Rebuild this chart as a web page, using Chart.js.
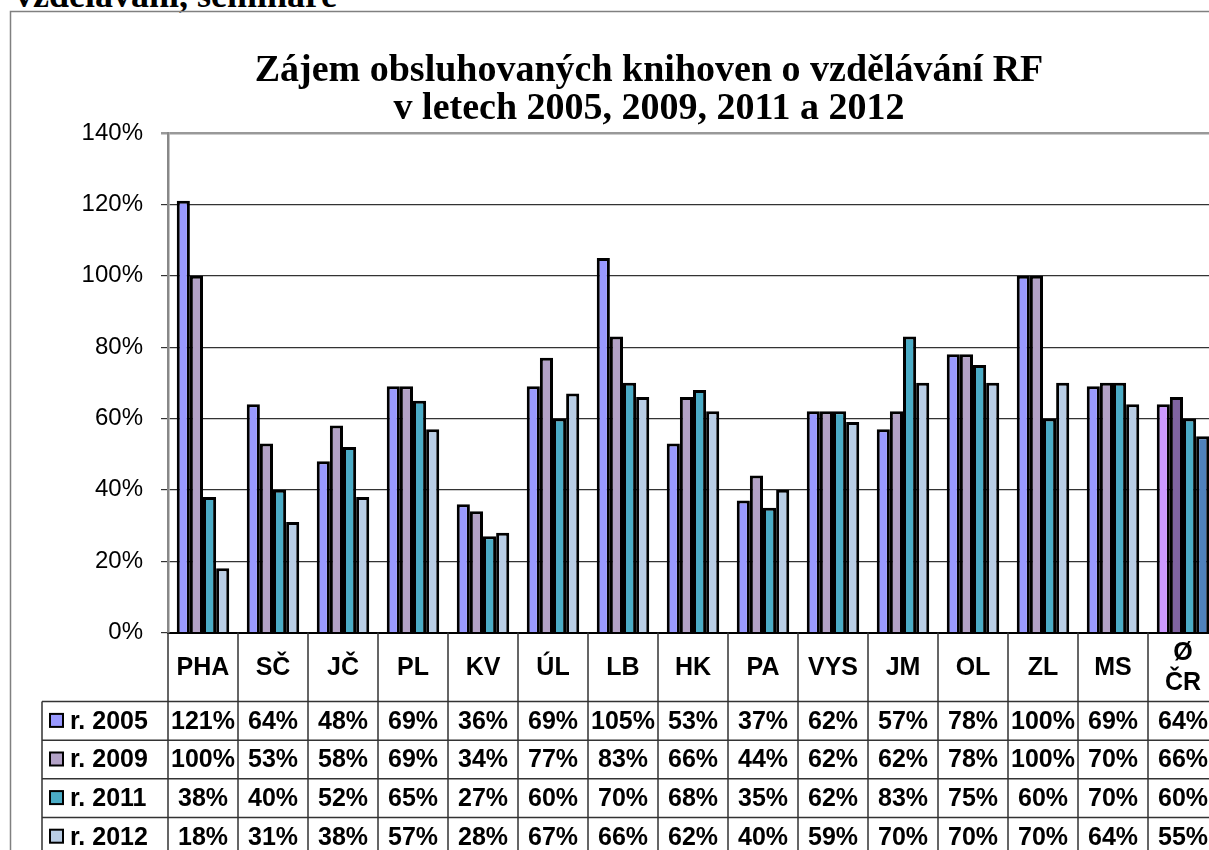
<!DOCTYPE html>
<html>
<head>
<meta charset="utf-8">
<script src="https://cdn.jsdelivr.net/npm/chart.js@4.4.1/dist/chart.umd.min.js"></script>
<style>
  html, body { margin: 0; padding: 0; background: #fff; overflow: hidden; }
  #wrap { position: relative; width: 1209px; height: 850px; overflow: hidden; }
  #cap { position: absolute; left: 15px; top: -26px; font: bold 36px "Liberation Serif", "Times New Roman", serif; white-space: nowrap; }
  canvas { position: absolute; left: 0; top: 0; }
</style>
</head>
<body>
<div id="wrap">
  <div id="cap">vzdělávání, semináře</div>
  <canvas id="graf" width="1230" height="870"></canvas>
</div>
<script>
const kraje = ['PHA', 'SČ', 'JČ', 'PL', 'KV', 'ÚL', 'LB', 'HK', 'PA', 'VYS', 'JM', 'OL', 'ZL', 'MS', ['Ø', 'ČR']];
const roky = ['r. 2005', 'r. 2009', 'r. 2011', 'r. 2012'];
const r2005 = [121, 64, 48, 69, 36, 69, 105, 53, 37, 62, 57, 78, 100, 69, 64];
const r2009 = [100, 53, 58, 69, 34, 77, 83, 66, 44, 62, 62, 78, 100, 70, 66];
const r2011 = [38, 40, 52, 65, 27, 60, 70, 68, 35, 62, 83, 75, 60, 70, 60];
const r2012 = [18, 31, 38, 57, 28, 67, 66, 62, 40, 59, 70, 70, 70, 64, 55];
const yTicks = [0, 20, 40, 60, 80, 100, 120, 140];

const barvy = ['#9999FF', '#B3A2C7', '#4BACC6', '#B9CDE5'];
const barvyCR = ['#CC99FF', '#8064A2', '#4BACC6', '#4F81BD'];
const rady = [r2005, r2009, r2011, r2012];

const popisky = 69;   // vyska radku s nazvy kraju
const radek = 38.6;   // vyska radku tabulky

// tabulka dat pod grafem + ramecek
const tabulka = {
    id: 'tabulka',
    beforeDraw(chart) {
        const ctx = chart.ctx;
        ctx.save();
        ctx.strokeStyle = '#808080';
        ctx.lineWidth = 1.5;
        ctx.strokeRect(10.5, 11.5, 1400, 1000);
        ctx.restore();
    },
    afterDraw(chart) {
        const { ctx, chartArea } = chart;
        const x = chart.scales.x;
        const n = kraje.length;
        const pul = (x.getPixelForValue(1) - x.getPixelForValue(0)) / 2;
        const top = chartArea.bottom + popisky;
        const bottom = top + radek * 4;
        const left = 42;
        const right = x.getPixelForValue(n - 1) + pul;

        ctx.save();
        ctx.strokeStyle = '#333';
        ctx.lineWidth = 1.5;
        ctx.beginPath();
        for (let i = 0; i <= n; i++) {
            const px = i < n ? x.getPixelForValue(i) - pul : right;
            ctx.moveTo(px, chartArea.bottom);
            ctx.lineTo(px, bottom);
        }
        ctx.moveTo(left, top);
        ctx.lineTo(left, bottom);
        for (let r = 0; r < 4; r++) {
            ctx.moveTo(left, top + r * radek);
            ctx.lineTo(right, top + r * radek);
        }
        ctx.stroke();

        ctx.font = 'bold 25px "Liberation Sans", Arial, sans-serif';
        ctx.fillStyle = '#000';
        ctx.textBaseline = 'middle';
        for (let r = 0; r < 4; r++) {
            const cy = top + r * radek + radek / 2;
            // znacka legendy
            ctx.fillStyle = barvy[r];
            ctx.fillRect(50, cy - 7, 13, 13);
            ctx.lineWidth = 2;
            ctx.strokeStyle = '#000';
            ctx.strokeRect(50, cy - 7, 13, 13);
            ctx.fillStyle = '#000';
            ctx.textAlign = 'left';
            ctx.fillText(roky[r], 70, cy + 1);
            ctx.textAlign = 'center';
            rady[r].forEach((v, i) => {
                ctx.fillText(v + '%', x.getPixelForValue(i), cy + 1);
            });
        }
        ctx.restore();
    }
};

const ctx = document.getElementById('graf').getContext('2d');
new Chart(ctx, {
    type: 'bar',
    data: {
        labels: kraje,
        datasets: rady.map((data, i) => ({
            label: roky[i],
            data: data,
            backgroundColor: c => c.dataIndex === kraje.length - 1 ? barvyCR[i] : barvy[i],
            borderColor: '#000',
            borderWidth: 3,
            borderSkipped: 'bottom',
            categoryPercentage: 0.75,
            barPercentage: 1
        }))
    },
    options: {
        responsive: false,
        animation: false,
        layout: { padding: { left: 80, right: 12, top: 0, bottom: 0 } },
        plugins: {
            legend: { display: false },
            tooltip: { enabled: false },
            title: {
                display: true,
                text: ['Zájem obsluhovaných knihoven o vzdělávání RF', 'v letech 2005, 2009, 2011 a 2012'],
                color: '#000',
                font: { family: '"Liberation Serif", "Times New Roman", serif', size: 38, weight: 'bold', lineHeight: 1.0 },
                padding: { top: 52, bottom: 5 }
            }
        },
        scales: {
            x: {
                grid: { drawOnChartArea: false, drawTicks: false },
                border: { color: '#000', width: 2 },
                ticks: {
                    color: '#000',
                    font: { family: '"Liberation Sans", Arial, sans-serif', size: 25, weight: 'bold', lineHeight: 1.2 },
                    padding: 21,
                    crossAlign: 'center',
                    maxRotation: 0,
                    autoSkip: false
                },
                afterFit: s => { s.height = popisky + radek * 4 + 14; }
            },
            y: {
                min: 0,
                max: 140,
                afterBuildTicks: s => { s.ticks = yTicks.map(v => ({ value: v })); },
                ticks: {
                    color: '#000',
                    font: { family: '"Liberation Sans", Arial, sans-serif', size: 24 },
                    padding: 18,
                    callback: v => v + '%'
                },
                grid: {
                    color: c => c.tick && c.tick.value === 140 ? '#999' : '#333',
                    lineWidth: c => c.tick && c.tick.value === 140 ? 2.5 : 1.2,
                    tickLength: 7
                },
                border: { color: '#888', width: 2.5 },
                afterFit: s => { s.width = 88; }
            }
        }
    },
    plugins: [tabulka]
});
</script>
</body>
</html>
